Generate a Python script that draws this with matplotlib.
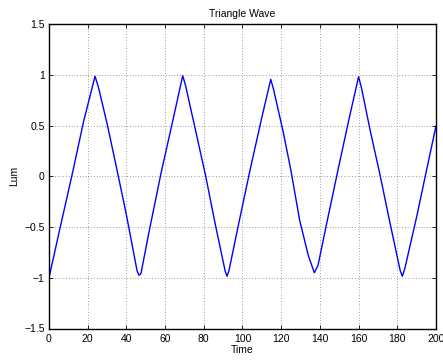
import matplotlib
matplotlib.use("Agg")
import matplotlib.pyplot as plt

# sampled triangle wave (time, luminance)
time = [0, 5, 12, 18, 23.8, 25.5, 30, 34.5, 40, 45.5, 46.5, 47.5, 52, 58, 64, 69.1,
        70.5, 76, 81, 86, 91, 92, 93, 98, 104, 110, 114.6, 116, 121, 125, 129.5, 134,
        137.1, 139, 144, 150, 155, 160, 161.5, 166, 171, 176, 181.5, 182.6, 184, 190, 195, 200]
lum = [-1.0, -0.57, 0.02, 0.55, 0.985, 0.88, 0.52, 0.12, -0.38, -0.93, -0.975, -0.96, -0.52, 0.04, 0.55, 0.99,
       0.9, 0.43, 0.0, -0.48, -0.93, -0.985, -0.93, -0.47, 0.07, 0.58, 0.955, 0.86, 0.44, 0.06, -0.43, -0.78,
       -0.95, -0.88, -0.42, 0.12, 0.56, 0.98, 0.87, 0.45, 0.02, -0.44, -0.93, -0.985, -0.9, -0.4, 0.05, 0.495]

xticks = list(range(0, 201, 20))
yticks = [-1.5, -1, -0.5, 0, 0.5, 1, 1.5]
ytick_labels = ["\u22121.5", "\u22121", "\u22120.5", "0", "0.5", "1", "1.5"]

plt.rcParams["font.family"] = ["Liberation Sans", "DejaVu Sans"]
plt.rcParams["font.size"] = 7.5

fig = plt.figure(figsize=(4.43, 3.6), dpi=100)
ax = fig.add_axes([0.1106, 0.0875, 0.8736, 0.8458])

ax.plot(time, lum, color="#0000ff", linewidth=1.0)

ax.set_xlim(0, 200)
ax.set_ylim(-1.5, 1.5)
ax.set_xticks(xticks)
ax.set_yticks(yticks)
ax.set_yticklabels(ytick_labels)
ax.tick_params(direction="in", top=True, right=True, length=3, width=0.6)
ax.tick_params(axis="x", pad=4)
ax.tick_params(axis="y", pad=3)
ax.grid(True, linestyle=(0, (1, 3)), color="black", linewidth=0.5, alpha=0.7)
for s in ax.spines.values():
    s.set_linewidth(1.0)

ax.set_title("Triangle Wave", fontsize=7.5, pad=5)
ax.set_xlabel("Time", labelpad=1)
ax.set_ylabel("Lum", labelpad=4)

fig.savefig("out.png", dpi=100)
